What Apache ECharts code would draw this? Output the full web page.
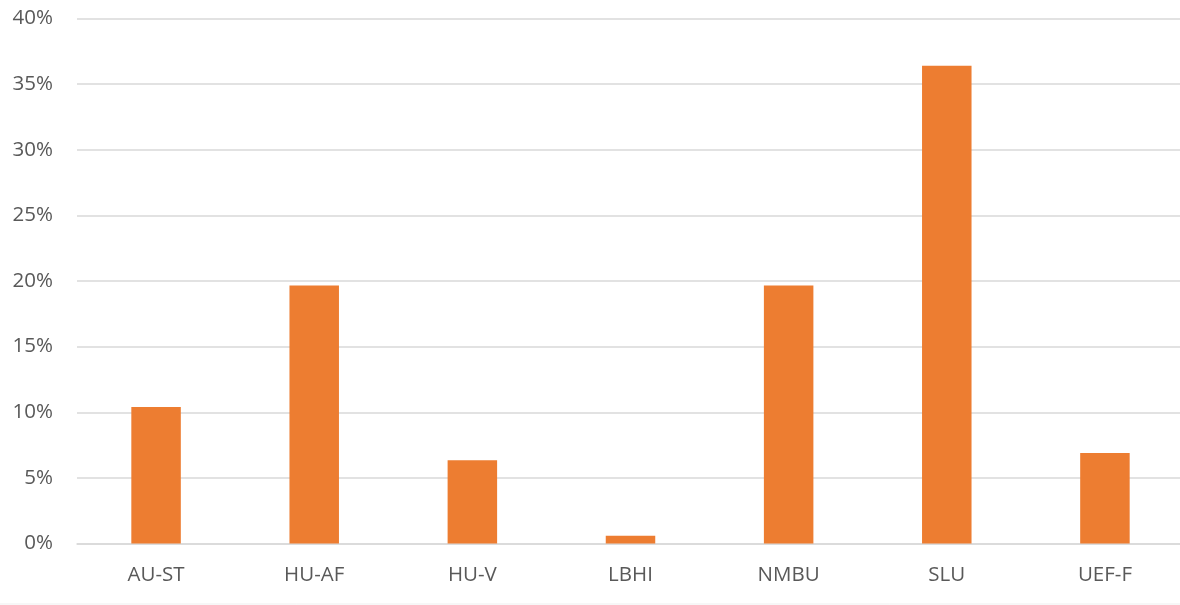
<!DOCTYPE html>
<html>
<head>
<meta charset="utf-8">
<script src="https://cdn.jsdelivr.net/npm/echarts@6/dist/echarts.min.js"></script>
<style>
html,body{margin:0;padding:0;background:#fff;overflow:hidden;width:1180px;height:605px;}
#chart{width:1186px;height:605px;}
</style>
</head>
<body>
<div id="chart"></div>
<script>
const categories = ["AU-ST", "HU-AF", "HU-V", "LBHI", "NMBU", "SLU", "UEF-F"];
const shares = [10.4, 19.65, 6.35, 0.6, 19.65, 36.4, 6.9];
const yTicks = [0, 5, 10, 15, 20, 25, 30, 35, 40];

const chart = echarts.init(document.getElementById('chart'));
chart.setOption({
  animation: false,
  backgroundColor: '#ffffff',
  grid: { left: 77, top: 18.5, width: 1107, height: 525, containLabel: false },
  xAxis: {
    type: 'category',
    data: categories,
    axisLine: { show: true, lineStyle: { color: '#d9d9d9', width: 1.5 } },
    axisTick: { show: false },
    axisLabel: { color: '#595959', fontFamily: 'Open Sans', fontSize: 20.5, margin: 21 }
  },
  yAxis: {
    type: 'value',
    min: yTicks[0],
    max: yTicks[yTicks.length - 1],
    interval: 5,
    axisLine: { show: false },
    axisTick: { show: false },
    splitLine: { lineStyle: { color: '#d9d9d9', width: 1.5 } },
    axisLabel: { color: '#595959', fontFamily: 'Open Sans', fontSize: 20.5, margin: 24, formatter: v => v + '%' }
  },
  graphic: [{
    type: 'line',
    shape: { x1: 0, y1: 604, x2: 1186, y2: 604 },
    style: { stroke: '#efefef', lineWidth: 1 }
  }],
  series: [{
    type: 'bar',
    data: shares,
    barWidth: '31.3%',
    itemStyle: { color: '#ED7D31' }
  }]
});
</script>
</body>
</html>
